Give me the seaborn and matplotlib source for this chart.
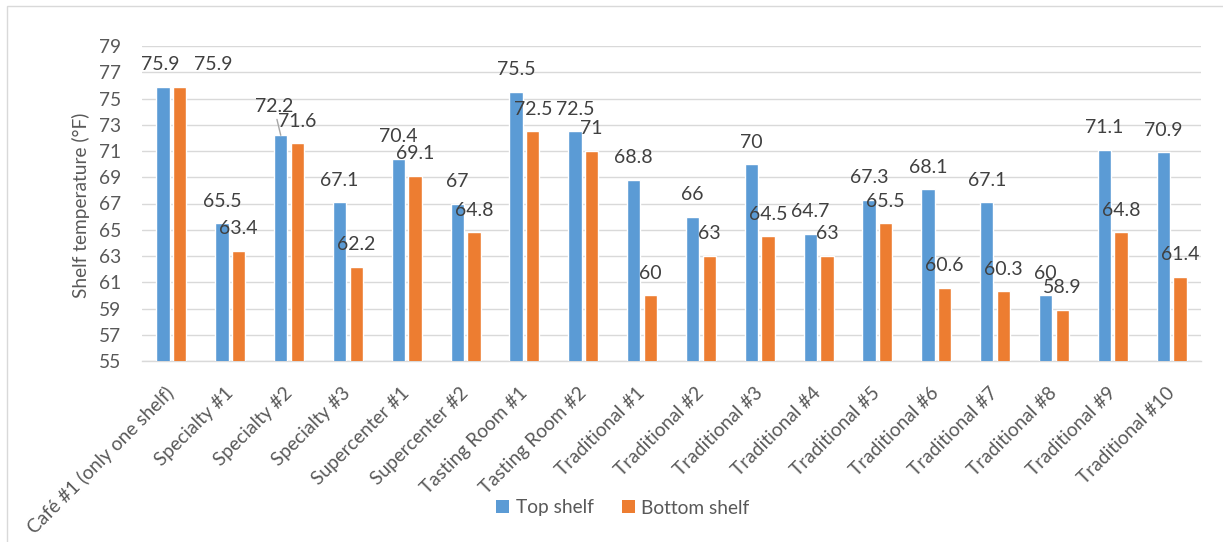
import matplotlib
matplotlib.use("Agg")
import matplotlib.pyplot as plt
from matplotlib.patches import Patch, Rectangle
import pandas as pd
import seaborn as sns

# Shelf temperatures recorded at each store (°F)
stores = [
    "Café #1 (only one shelf)", "Specialty #1", "Specialty #2", "Specialty #3",
    "Supercenter #1", "Supercenter #2", "Tasting Room #1", "Tasting Room #2",
    "Traditional #1", "Traditional #2", "Traditional #3", "Traditional #4",
    "Traditional #5", "Traditional #6", "Traditional #7", "Traditional #8",
    "Traditional #9", "Traditional #10",
]
top_shelf = [75.9, 65.5, 72.2, 67.1, 70.4, 67, 75.5, 72.5, 68.8,
             66, 70, 64.7, 67.3, 68.1, 67.1, 60, 71.1, 70.9]
bottom_shelf = [75.9, 63.4, 71.6, 62.2, 69.1, 64.8, 72.5, 71, 60,
                63, 64.5, 63, 65.5, 60.6, 60.3, 58.9, 64.8, 61.4]
series = ["Top shelf", "Bottom shelf"]
y_ticks = list(range(55, 80, 2))

colors = ["#5B9BD5", "#ED7D31"]
text_color = "#595959"
label_color = "#404040"
grid_color = "#D9D9D9"
font_size = 13.8

# Label nudges (points) for labels that would collide: (series, store) -> (dx, dy, leader)
label_nudges = {
    (0, 0): (-2.0, 0.0, False),
    (1, 0): (24.0, 0.0, False),
    (0, 2): (-5.0, 5.0, True),
}

sns.set_style("white")
plt.rcParams["font.family"] = ["Lato", "DejaVu Sans"]
plt.rcParams["font.size"] = font_size

df = pd.DataFrame({
    "store": stores * 2,
    "shelf": [series[0]] * len(stores) + [series[1]] * len(stores),
    "temp": top_shelf + bottom_shelf,
})

fig = plt.figure(figsize=(12.23, 5.42), dpi=100)
ax = fig.add_axes([142 / 1223, 1 - 361 / 542, (1201 - 142) / 1223, (361 - 46) / 542])

sns.barplot(data=df, x="store", y="temp", hue="shelf", order=stores,
            hue_order=series, palette=colors, width=0.567, gap=0.2,
            saturation=1, errorbar=None, ax=ax, zorder=3, legend=False)

ax.set_ylim(55, 79)
ax.set_yticks(y_ticks)
ax.set_xlim(-0.5, len(stores) - 0.5)
ax.yaxis.grid(True, color=grid_color, linewidth=1.0, zorder=0)
ax.set_axisbelow(True)
for side in ["top", "right", "left"]:
    ax.spines[side].set_visible(False)
ax.spines["bottom"].set_color(grid_color)
ax.spines["bottom"].set_linewidth(1.0)
ax.tick_params(axis="both", length=0, colors=text_color, labelsize=font_size)
ax.tick_params(axis="y", pad=15)
ax.tick_params(axis="x", pad=21)
for lab in ax.get_xticklabels():
    lab.set_rotation(45)
    lab.set_ha("right")
    lab.set_va("center")
    lab.set_rotation_mode("anchor")

ax.set_xlabel("")
ax.set_ylabel("")
fig.text(81 / 1223, 1 - 205 / 542, "Shelf temperature (°F)", rotation=90,
         ha="center", va="center", color=text_color, fontsize=font_size)

# Value labels above each bar
for s_idx, (container, values) in enumerate(zip(ax.containers, [top_shelf, bottom_shelf])):
    for c_idx, (bar, val) in enumerate(zip(container.patches, values)):
        x = bar.get_x() + bar.get_width() / 2
        dx, dy, leader = label_nudges.get((s_idx, c_idx), (0.0, 0.0, False))
        kw = {}
        if leader:
            kw["arrowprops"] = dict(arrowstyle="-", color="#A6A6A6", lw=1.0,
                                    shrinkA=1, shrinkB=0)
        ax.annotate(f"{val:g}", xy=(x, val), xytext=(dx, 11.9 + dy),
                    textcoords="offset points", ha="center", va="baseline",
                    color=label_color, fontsize=14, zorder=5, **kw)

handles = [Patch(facecolor=c, edgecolor="none", label=s) for c, s in zip(colors, series)]
fig.legend(handles=handles, loc="center", bbox_to_anchor=(623 / 1223, 1 - 508 / 542),
           ncol=2, frameon=False, fontsize=font_size, handlelength=0.65, handleheight=0.65,
           handletextpad=0.35, columnspacing=1.5, labelcolor=text_color)

# Chart area border (runs off the right and bottom edges)
fig.patches.append(Rectangle((7 / 1223, -0.2), 1.2, 1.2 - 6 / 542,
                             transform=fig.transFigure, fill=False,
                             edgecolor=grid_color, linewidth=1.0))

fig.savefig("out.png", dpi=100)
